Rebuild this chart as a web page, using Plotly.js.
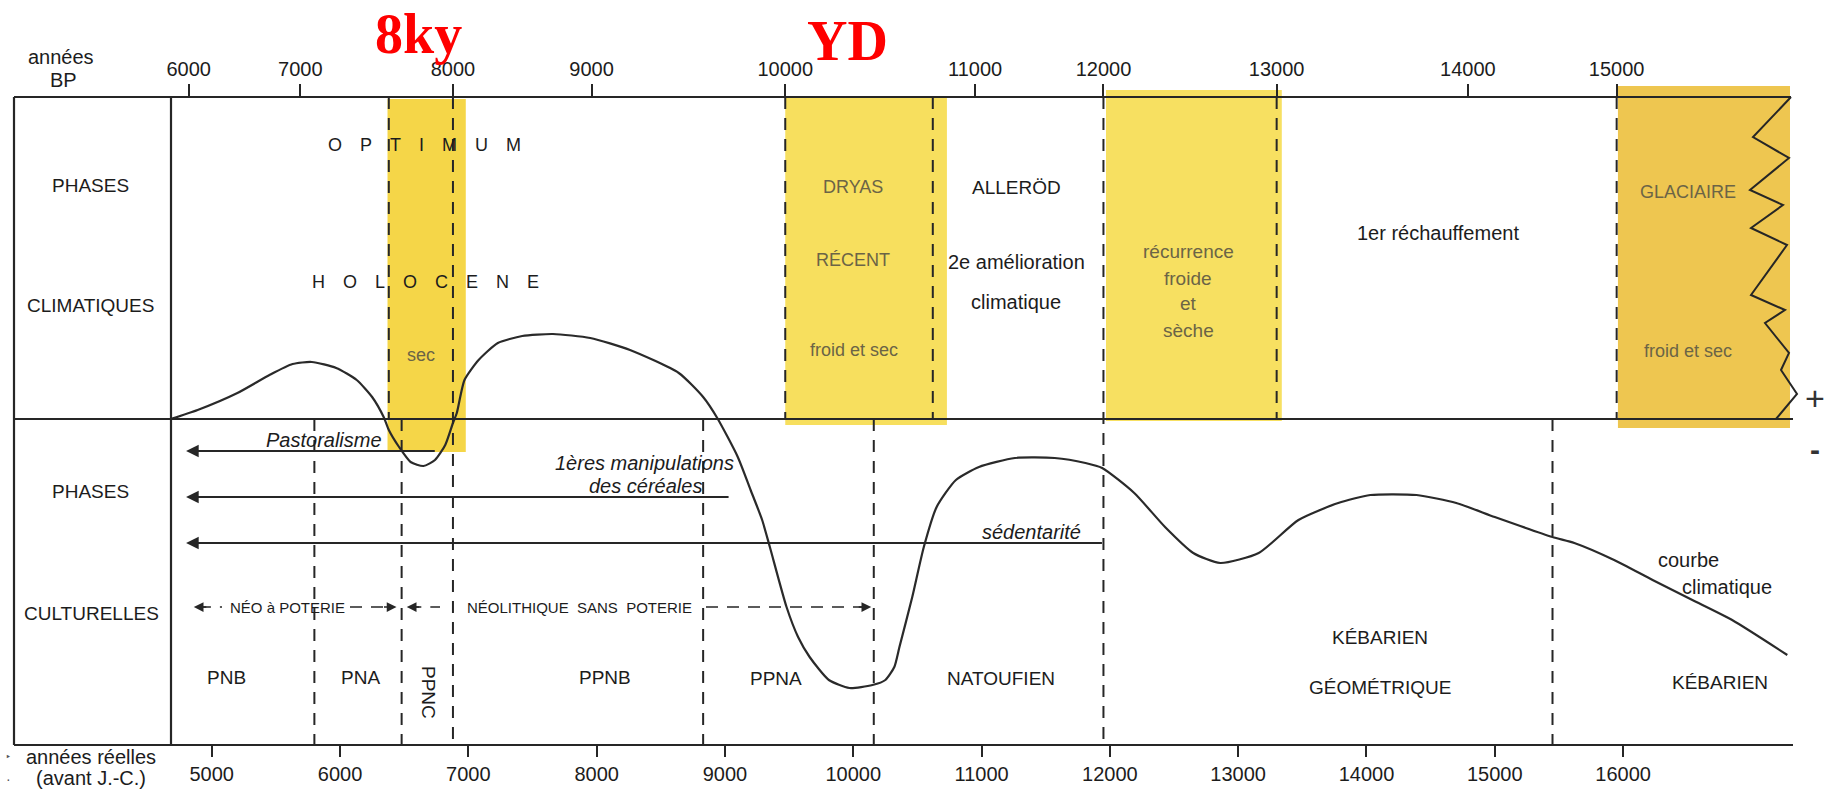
<!DOCTYPE html>
<html><head><meta charset="utf-8">
<script src="https://cdn.plot.ly/plotly-3.0.1.min.js"></script>
<style>html,body{margin:0;padding:0;background:#fff}#chart{width:1837px;height:794px}</style>
</head><body><div id="chart"></div>
<script>
// ================= DATA =================
// bottom axis: real years (avant J.-C.)
const realYearTicks = [5000,6000,7000,8000,9000,10000,11000,12000,13000,14000,15000,16000];
// top axis: années BP (radiocarbon) and their position in real years BC
const bpTickLabels = ['6000','7000','8000','9000','10000','11000','12000','13000','14000','15000'];
const bpTickCalBC  = [4820, 5690, 6880, 7960, 9470, 10950, 11950, 13300, 14790, 15950];

// climate curve ("courbe climatique"): real year BC -> relative index (+ warm/humid, - cold/dry)
const curveYears = [4680,4890,5200,5450,5630,5780,5970,6130,6250,6340,6380,6460,6550,6650,6740,6820,6880,6910,6970,7080,7230,7420,7660,7950,8260,8640,8830,8940,9100,9200,9290,9350,9480,9570,9660,9810,9970,10150,10250,10320,10360,10460,10550,10650,10800,10980,11260,11570,11810,11940,12190,12430,12650,12860,13160,13470,13780,14030,14390,14700,15000,15450,15620,15930,16230,16540,16850,17280];
const curveIndex = [0,0.09,0.26,0.44,0.55,0.57,0.51,0.39,0.22,0.02,-0.11,-0.28,-0.43,-0.47,-0.41,-0.26,-0.04,0.06,0.39,0.59,0.76,0.83,0.85,0.81,0.69,0.46,0.22,0.01,-0.38,-0.71,-1.01,-1.28,-1.88,-2.18,-2.38,-2.61,-2.69,-2.66,-2.61,-2.48,-2.28,-1.78,-1.28,-0.88,-0.61,-0.48,-0.39,-0.39,-0.44,-0.49,-0.74,-1.08,-1.34,-1.44,-1.34,-1.01,-0.84,-0.76,-0.76,-0.84,-0.98,-1.18,-1.24,-1.41,-1.61,-1.81,-2.01,-2.36];

// climatic phase boundaries (upper panel only), boundaries through both panels, cultural boundaries (lower panel)
const climaticBounds = [6380, 9470, 10620, 13300, 15950];
const sharedBounds   = [6880, 11950];
const culturalBounds = [5800, 6480, 8830, 10160, 15450];

// cold / dry episodes (highlighted): 8ky, Dryas récent (YD), récurrence froide, glaciaire
const coldPhaseStart = [6370, 9470, 11970, 15960];
const coldPhaseEnd   = [6980, 10730, 13340, 17330];

// cultural phases arrows (start year, continuing to present)
const phaseArrowLabels = ['Pastoralisme', '1ères manipulations', 'des céréales', 'sédentarité'];
const phaseArrowStart  = [6750, 9040, 11950];
const phaseArrowEnd    = 4800;
// pottery neolithic spans
const neoPotterySpan   = [4860, 6480];
const neoNoPotterySpan = [6480, 10160];

// ================= LAYOUT HELPERS =================
const F = 'Liberation Sans, Arial, Helvetica, sans-serif';
const SERIF = 'Liberation Serif, Times New Roman, serif';
const W=1837,H=794,L=171,R=47,T=97,B=49,PW=W-L-R,PH=H-T-B;
const X0=4682.5, X1=17301, Y0=-3.26, Y1=3.22;
const LC = '#262626';
const TC = '#1c1c1c';
const OLIVE = '#6b6446';
const px = x => (x-L)/PW;
const py = y => (H-B-y)/PH;
const yv = y => (419-y)/100;
const xr = p => X0 + (p-L)/PW*(X1-X0);

const shapes = [];
const bandTop = [99, 97, 90, 86], bandBot = [452, 425, 421, 428];
const bandColor = ['#F5D648', '#F7DF5E', '#F7E061', '#EEC650'];
coldPhaseStart.forEach((s,i)=>shapes.push({type:'rect',xref:'x',yref:'paper',x0:s,x1:coldPhaseEnd[i],
  y0:py(bandBot[i]),y1:py(bandTop[i]),fillcolor:bandColor[i],line:{width:0},layer:'below'}));

function hline(x0,x1,y){shapes.push({type:'line',xref:'paper',yref:'paper',x0:px(x0),x1:px(x1),y0:py(y),y1:py(y),line:{color:LC,width:2.2}});}
function vline(x,y0,y1){shapes.push({type:'line',xref:'paper',yref:'paper',x0:px(x),x1:px(x),y0:py(y0),y1:py(y1),line:{color:LC,width:2.2}});}
function vdash(year,ya,yb){shapes.push({type:'line',xref:'x',yref:'paper',x0:year,x1:year,y0:py(ya),y1:py(yb),line:{color:LC,width:2,dash:'12px,9px'}});}
hline(14,1791,97); hline(14,1793,419); hline(14,1793,745);
vline(14,97,745); vline(171,97,745);
climaticBounds.forEach(b=>vdash(b,97,419));
sharedBounds.forEach(b=>vdash(b,97,745));
culturalBounds.forEach(b=>vdash(b,419,745));

// zigzag right edge of glaciaire
const zz = [[1791,97],[1753,137],[1789,158],[1750,190],[1783,205],[1751,228],[1787,245],[1751,295],[1785,310],[1765,323],[1789,353],[1781,370],[1797,394],[1776,419]];
shapes.push({type:'path',xref:'paper',yref:'paper',path:zz.map((p,i)=>(i?'L':'M')+px(p[0])+','+py(p[1])).join(' '),line:{color:LC,width:2}});

// dashed pottery row
const rowY = yv(607);
function hdash(x0,x1){shapes.push({type:'line',xref:'x',yref:'y',x0:x0,x1:x1,y0:rowY,y1:rowY,line:{color:LC,width:1.6,dash:'12px,9px'}});}
hdash(neoPotterySpan[0]+40, xr(222)); hdash(xr(350), neoPotterySpan[1]-120);
hdash(neoNoPotterySpan[0]+60, xr(440)); hdash(xr(706), neoNoPotterySpan[1]-60);

// ================= ANNOTATIONS =================
const ann = [];
function txt(t,x,y,size,color,extra){ann.push(Object.assign({text:t,x:px(x),y:py(y),xref:'paper',yref:'paper',showarrow:false,
  xanchor:'center',yanchor:'middle',font:{family:F,size:size||19,color:color||TC}},extra||{}));}

txt('<b>8ky</b>',418,34,56,'#FF0000',{font:{family:SERIF,size:56,color:'#FF0000'}});
txt('<b>YD</b>',847,41,56,'#FF0000',{font:{family:SERIF,size:56,color:'#FF0000'}});

txt('années',61,57,20); txt('BP',63,80,20);
txt('PHASES',90,185); txt('CLIMATIQUES',90,305); txt('PHASES',90,492); txt('CULTURELLES',91,613);
txt('années réelles',91,757,20); txt('(avant J.-C.)',91,778,20);
txt('‣',8,757,12,'#555'); txt('·',8,779,14,'#555');

const sp='\u2003';
txt(['O','P','T','I','M','U','M'].join(sp),424,145,18);
txt(['H','O','L','O','C','E','N','E'].join(sp),425,282,18);
txt('sec',421,355,18,OLIVE);
txt('DRYAS',853,187,18,OLIVE); txt('RÉCENT',853,260,18,OLIVE); txt('froid et sec',854,350,18,OLIVE);
txt('ALLERÖD',1016,188,19); txt('2e amélioration',1016,262,20); txt('climatique',1016,302,20);
txt('récurrence',1188,252,19,OLIVE); txt('froide',1188,278,19,OLIVE); txt('et',1188,303,19,OLIVE); txt('sèche',1188,330,19,OLIVE);
txt('1er réchauffement',1438,233,20);
txt('GLACIAIRE',1688,192,18,OLIVE); txt('froid et sec',1688,351,18,OLIVE);
txt('+',1815,398,34,'#333'); txt('<b>-</b>',1815,449,30,'#333');

// cultural phase arrows
txt('<i>'+phaseArrowLabels[0]+'</i>',324,440,20);
txt('<i>'+phaseArrowLabels[1]+'</i>',736,463,20,TC,{xanchor:'right'});
txt('<i>'+phaseArrowLabels[2]+'</i>',704,486,20,TC,{xanchor:'right'});
txt('<i>'+phaseArrowLabels[3]+'</i>',1031,532,20);
const arrowY = [yv(451), yv(497), yv(543)];
phaseArrowStart.forEach((s,i)=>ann.push({x:phaseArrowEnd,y:arrowY[i],ax:s,ay:arrowY[i],xref:'x',yref:'y',axref:'x',ayref:'y',
  text:'',showarrow:true,arrowhead:2,arrowsize:1.4,arrowwidth:1.8,arrowcolor:LC}));

// pottery row labels and heads
txt('NÉO à POTERIE',287,607,15);
txt('NÉOLITHIQUE  SANS  POTERIE',579,607,15);
function head(x,dir){ann.push({x:x,y:rowY,xref:'x',yref:'y',ax:dir*14,ay:0,text:'',showarrow:true,arrowhead:2,arrowsize:1.3,arrowwidth:1.5,arrowcolor:LC,standoff:0});}
head(neoPotterySpan[0],1); head(neoPotterySpan[1]-40,-1); head(neoNoPotterySpan[0]+40,1); head(neoNoPotterySpan[1]-20,-1);

txt('PNB',226,677); txt('PNA',360,677); txt('PPNC',429,692,19,TC,{textangle:90});
txt('PPNB',605,677); txt('PPNA',776,678); txt('NATOUFIEN',1001,678);
txt('KÉBARIEN',1380,637); txt('GÉOMÉTRIQUE',1380,687); txt('KÉBARIEN',1720,682);
txt('courbe',1688,560,20); txt('climatique',1727,587,20);

// ================= TRACES =================
const traces = [
  {x:curveYears,y:curveIndex,type:'scatter',mode:'lines',line:{color:'#2a2a2a',width:2.2,shape:'spline',smoothing:0.6},hoverinfo:'skip',showlegend:false},
  {x:[X0,X1],y:[0,0],xaxis:'x2',type:'scatter',mode:'markers',marker:{opacity:0},hoverinfo:'skip',showlegend:false}
];

const tickCommon = {ticks:'outside',tickwidth:2,tickcolor:LC,showgrid:false,zeroline:false,showline:false,fixedrange:true,
  tickfont:{family:F,size:20,color:TC}};
const layout = {
  width:W,height:H,margin:{l:L,r:R,t:T,b:B},paper_bgcolor:'#fff',plot_bgcolor:'rgba(0,0,0,0)',showlegend:false,
  xaxis:Object.assign({range:[X0,X1],tickvals:realYearTicks,ticktext:realYearTicks.map(String),ticklen:11},tickCommon),
  xaxis2:Object.assign({range:[X0,X1],overlaying:'x',side:'top',tickvals:bpTickCalBC,ticktext:bpTickLabels,ticklen:12},tickCommon),
  yaxis:{range:[Y0,Y1],visible:false,fixedrange:true},
  shapes:shapes,annotations:ann
};
Plotly.newPlot('chart',traces,layout,{displayModeBar:false,staticPlot:true});
</script></body></html>
